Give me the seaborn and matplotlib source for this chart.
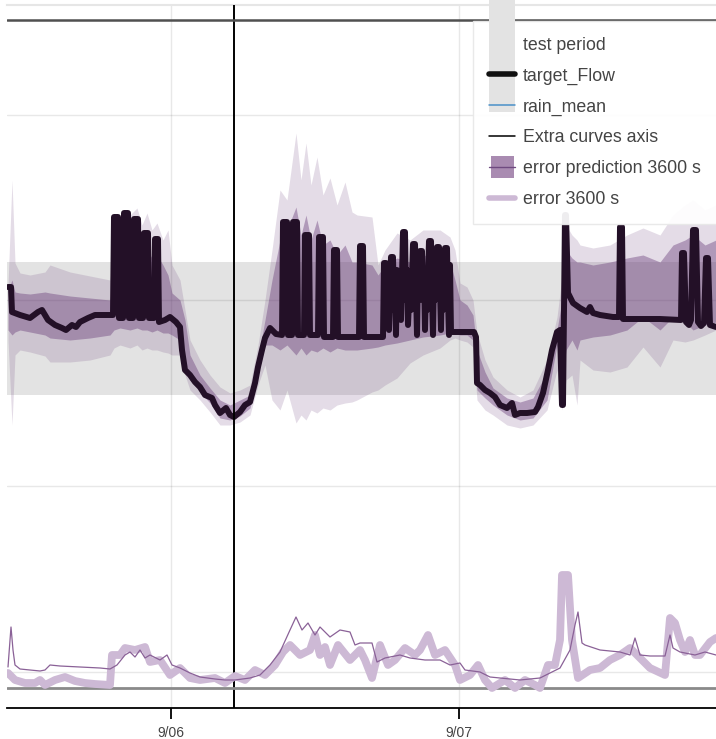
import numpy as np
import pandas as pd
import matplotlib
matplotlib.use("Agg")
import matplotlib.pyplot as plt
import seaborn as sns
from matplotlib.patches import Rectangle
from matplotlib.lines import Line2D
from matplotlib.legend_handler import HandlerBase

# ---------------------------------------------------------------------------
# Data: minutes after 2021-09-06 00:00 and values
# ---------------------------------------------------------------------------
flow_min = [-815, -800, -795, -755, -705, -665, -645, -615, -580, -545, -525, -495, -475, -455,
            -415, -380, -295, -290, -285, -265, -260, -240, -235, -215, -210, -190, -185, -165,
            -160, -140, -135, -115, -110, -85, -80, -65, -60, -30, -5, 25, 45, 55, 70, 95, 120,
            145, 170, 205, 220, 245, 275, 295, 315, 345, 370, 395, 420, 435, 455, 470, 495, 525,
            555, 560, 580, 585, 605, 610, 630, 635, 665, 670, 690, 695, 735, 740, 760, 765, 810,
            815, 830, 835, 940, 945, 960, 965, 1060,
            1065, 1075, 1080, 1085, 1090, 1100, 1110, 1115, 1120, 1125, 1130, 1135, 1145, 1150,
            1160, 1170, 1175, 1180, 1185, 1195, 1200, 1210, 1220, 1225, 1230, 1235, 1240, 1245,
            1255, 1260, 1265, 1270, 1275, 1280, 1290, 1300, 1305, 1310, 1315, 1320, 1330, 1340,
            1345, 1350, 1355, 1360, 1370, 1380, 1385, 1390, 1395, 1400,
            1445, 1515, 1525, 1530, 1545, 1570, 1595, 1620, 1645, 1680, 1705,
            1720, 1745, 1780, 1820, 1835, 1860, 1885, 1905, 1930, 1945, 1955, 1960, 1970, 1975,
            1985, 2010, 2045, 2080, 2095, 2110, 2145, 2210, 2240, 2245, 2255, 2260, 2345, 2445,
            2550, 2555, 2565, 2575, 2590, 2600, 2610, 2625, 2635, 2650, 2665, 2675, 2685, 2695,
            2725]
target_flow = [385, 385, 360, 357, 354, 360, 362, 352, 347, 344, 342, 347, 345, 350,
               354, 357, 357, 357, 455, 455, 354, 354, 459, 459, 354, 354, 453, 453,
               354, 354, 439, 439, 354, 354, 433, 433, 350, 352, 355, 350, 345, 322, 302, 297, 290,
               285, 277, 274, 267, 259, 264, 257, 255, 260, 267, 270, 289, 305, 322, 334, 344, 338,
               337, 450, 450, 337, 337, 450, 450, 337, 337, 437, 437, 337, 337, 435, 435, 335, 335,
               422, 422, 335, 335, 426, 426, 335, 335,
               409, 409, 352, 372, 342, 415, 415, 362, 387, 337, 402, 372, 392, 352,
               440, 440, 372, 402, 347, 397, 362, 428, 428, 382, 337, 407, 372, 421,
               421, 372, 402, 342, 387, 362, 431, 431, 377, 337, 402, 372, 425, 425,
               382, 342, 402, 362, 424, 424, 372, 337, 407, 340,
               340, 340, 335, 289, 287, 282, 279, 275, 267, 264, 269,
               257, 259, 259, 260, 265, 279, 302, 322, 340, 342, 267, 267, 457, 457,
               379, 369, 364, 360, 365, 359, 357, 355, 355, 445, 445, 353, 353, 353,
               352, 419, 419, 350, 347, 352, 442, 442, 350, 346, 349, 414, 414, 347,
               345]

band_min = [-815, -795, -780, -755, -705, -630, -605, -505, -405, -305, -285, -255, -205, -170,
            -145, -120, -95, -70, -40, -15, 5, 45, 70, 95, 145, 195, 245, 295, 345, 395, 435,
            470, 505, 545, 580, 625, 650, 675, 700, 730, 760, 795, 830, 870, 905, 930, 1005,
            1035, 1070, 1130, 1195, 1260, 1345, 1395, 1420, 1445, 1480, 1510, 1530, 1570, 1610,
            1680, 1745, 1810, 1880, 1930, 1955, 1975, 2005, 2030, 2045, 2110, 2195, 2280, 2360,
            2445, 2510, 2570, 2610, 2670, 2725]
outer_hi = [387, 492, 409, 399, 397, 400, 407, 400, 396, 392, 422, 447, 457, 464,
            447, 459, 442, 449, 432, 442, 407, 392, 362, 332, 312, 297, 285, 279, 282, 287, 327,
            372, 422, 482, 472, 539, 492, 529, 487, 515, 477, 494, 467, 490, 460, 457, 455,
            407, 422, 439, 432, 442, 442, 435, 422, 389, 385, 372, 339, 312, 295,
            282, 275, 282, 312, 355, 395, 447, 437, 432, 427, 424, 427, 437, 444,
            437, 457, 467, 472, 462, 467]
inner_hi = [382, 392, 380, 379, 378, 380, 379, 376, 374, 372, 402, 417, 422, 427,
            417, 422, 414, 417, 407, 397, 379, 372, 352, 317, 297, 284, 272, 267, 272, 277, 314,
            352, 392, 432, 442, 465, 437, 457, 432, 452, 427, 432, 417, 427, 410, 410, 407,
            397, 407, 414, 410, 417, 414, 410, 392, 372, 367, 357, 322, 300, 284,
            274, 270, 274, 300, 342, 372, 422, 414, 410, 410, 407, 410, 414, 417,
            410, 427, 432, 437, 427, 432]
inner_lo = [342, 337, 340, 342, 340, 337, 334, 332, 334, 337, 342, 344, 342, 344,
            342, 342, 340, 342, 339, 339, 337, 332, 312, 292, 280, 269, 254, 252, 256, 264, 297,
            327, 327, 322, 327, 317, 324, 317, 322, 320, 324, 320, 324, 322, 322, 322, 324,
            325, 327, 329, 332, 335, 337, 339, 339, 337, 337, 332, 282, 274, 267,
            257, 252, 254, 272, 327, 292, 322, 332, 322, 332, 335, 337, 342, 355,
            342, 355, 350, 342, 347, 350]
outer_lo = [332, 247, 317, 322, 320, 316, 310, 310, 312, 317, 324, 327, 324, 327,
            322, 324, 322, 322, 320, 319, 317, 317, 297, 282, 272, 260, 247, 247, 250, 257, 287,
            307, 272, 262, 282, 249, 257, 252, 262, 259, 264, 262, 267, 269, 270, 272, 280,
            282, 287, 294, 309, 317, 324, 332, 334, 332, 330, 325, 272, 262, 257,
            247, 244, 247, 262, 302, 262, 292, 297, 267, 312, 302, 300, 305, 325,
            305, 332, 330, 332, 337, 342]

err_pred_min = [-815, -800, -790, -780, -755, -705, -655, -630, -605, -555, -455, -355, -305,
                -270, -230, -205, -180, -155, -130, -105, -55, -20, 5, 45, 95, 145, 220, 270,
                320, 395, 445, 495, 545, 595, 625, 655, 685, 720, 745, 795, 845, 895, 920, 945,
                1005, 1030, 1070, 1145, 1195, 1270, 1345, 1395, 1445, 1470, 1545, 1595, 1645,
                1745, 1845, 1895, 1945, 1995, 2020, 2035, 2055, 2070, 2145, 2245, 2295, 2320,
                2345, 2395, 2470, 2495, 2510, 2545, 2620, 2670, 2725]
err_pred = [21, 61, 38, 23, 19, 18, 17, 18, 23, 22, 21, 20, 19,
            23, 33, 36, 31, 38, 30, 33, 28, 33, 23, 20, 15, 11, 9, 8,
            8, 10, 13, 23, 36, 58, 71, 58, 65, 53, 61, 51, 58, 56, 43, 45,
            45, 26, 30, 33, 30, 28, 28, 23, 25, 18, 16, 11, 10,
            8, 10, 15, 20, 38, 63, 76, 45, 43, 38, 36, 33, 50,
            33, 32, 32, 53, 40, 36, 33, 36, 33]

err_min = [-815, -780, -730, -680, -655, -630, -580, -530, -480, -430, -380, -305, -295, -255,
           -230, -180, -130, -105, -55, -5, 45, 95, 145, 220, 270, 320, 370, 420, 470, 520,
           560, 595, 645, 695, 720, 745, 770, 795, 835, 895, 945, 970, 1005, 1045, 1085, 1120,
           1170, 1220, 1245, 1285, 1320, 1370, 1420, 1445, 1495, 1535, 1570, 1605, 1670, 1720,
           1770, 1820, 1845, 1885, 1920, 1945, 1955, 1985, 2005, 2035, 2095, 2145, 2195, 2245,
           2295, 2345, 2395, 2470, 2495, 2520, 2545, 2570, 2595, 2620, 2645, 2695, 2725]
err_3600 = [15, 8, 5, 5, 8, 3, 8, 11, 7, 5, 4, 3, 33, 33,
            40, 38, 41, 26, 28, 13, 20, 10, 8, 10, 5, 12, 8, 18, 13, 23,
            36, 43, 33, 38, 53, 33, 41, 23, 43, 28, 38, 28, 10, 43, 23, 28,
            40, 33, 38, 53, 33, 38, 23, 8, 13, 23, 8, 0, 8, 0,
            8, 3, 0, 23, 23, 48, 113, 113, 48, 10, 18, 20, 28, 33,
            40, 30, 20, 13, 70, 65, 48, 36, 48, 33, 33, 46, 50]

test_period = (277, 410)          # horizontal test-period band on the flow axis
marker_time = 316                 # vertical marker, minutes after 9/06 00:00
extra_axis_level = 652            # level of the extra-curves axis line
grid_levels = [0, 186, 372, 557]
tick_minutes = [0, 1440]
tick_labels = ["9/06", "9/07"]
x_range = (-820, 2725)

START = pd.Timestamp("2021-09-06 00:00")


def to_time(minutes):
    return START + pd.to_timedelta(np.asarray(minutes, dtype=float), unit="min")


# ---------------------------------------------------------------------------
# Styling
# ---------------------------------------------------------------------------
sns.set_theme(style="white")
plt.rcParams["font.family"] = ["Liberation Sans", "DejaVu Sans"]

PURPLE = "#6a3d7a"
BAND_GREY = "#e3e3e3"
FLOW_COLOR = "#231027"
ERR_PRED_COLOR = "#8a6197"
ERR_COLOR = "#cdb9d5"
TEXT = "#444444"

W, H = 716, 739
fig = plt.figure(figsize=(W / 100, H / 100), dpi=100)
ax = fig.add_axes([7 / W, 31 / H, 709 / W, 703 / H])
ax2 = ax.twinx()

# test period band and forecast uncertainty envelopes
ax.axhspan(*test_period, color=BAND_GREY, lw=0, zorder=0.2)
bt = to_time(band_min)
ax.fill_between(bt, outer_lo, outer_hi, color=PURPLE, alpha=0.18, lw=0, zorder=1)
ax.fill_between(bt, inner_lo, inner_hi, color=PURPLE, alpha=0.42, lw=0, zorder=1.1)

# observed flow
sns.lineplot(x=to_time(flow_min), y=target_flow, ax=ax, color=FLOW_COLOR, lw=4.3,
             estimator=None, sort=False, legend=False, zorder=3)

ax.axvline(to_time([marker_time])[0], color="black", lw=1.4, zorder=4)
ax.axhline(extra_axis_level, color="#505050", lw=1.8, zorder=4)

# error curves on the secondary axis
ax2.axhline(0, color="#8a8a8a", lw=2.0, zorder=1)
sns.lineplot(x=to_time(err_min), y=err_3600, ax=ax2, color=ERR_COLOR, lw=5.6,
             estimator=None, sort=False, legend=False, zorder=2)
sns.lineplot(x=to_time(err_pred_min), y=err_pred, ax=ax2, color=ERR_PRED_COLOR, lw=0.9,
             estimator=None, sort=False, legend=False, zorder=3)

# axes limits, grid, ticks
ax.set_xlim(to_time([x_range[0]])[0], to_time([x_range[1]])[0])
ax.set_ylim(-36, 667)
ax2.set_ylim(-20, 683)

ax.set_axisbelow(True)
ax.set_yticks(grid_levels)
ax.grid(True, color="black", alpha=0.09, lw=1.0)
ax.set_xticks(list(to_time(tick_minutes)))
ax.set_xticklabels(tick_labels)
ax.tick_params(axis="y", length=0, labelleft=False, labelright=False)
ax.tick_params(axis="x", direction="out", length=8, width=1.3, color="black",
               labelcolor=TEXT, labelsize=10, pad=5, bottom=True)
ax2.set_yticks([])
ax2.grid(False)
ax.set_xlabel("")
ax.set_ylabel("")
ax2.set_ylabel("")

for side in ("left", "right"):
    ax.spines[side].set_visible(False)
ax.spines["top"].set_color("#e6e6e6")
ax.spines["top"].set_linewidth(1.5)
ax.spines["bottom"].set_color("black")
ax.spines["bottom"].set_linewidth(1.3)
for side in ax2.spines:
    ax2.spines[side].set_visible(False)


# ---------------------------------------------------------------------------
# Legend
# ---------------------------------------------------------------------------
PT = 72 / fig.dpi  # points per pixel


class TallBandHandler(HandlerBase):
    """Test-period swatch drawn as a tall grey strip."""

    def create_artists(self, legend, orig_handle, xdescent, ydescent, width, height,
                       fontsize, trans):
        yc = height / 2 - ydescent
        r = Rectangle((-xdescent, yc - 68 * PT), width, 112 * PT, facecolor=BAND_GREY,
                      edgecolor="none", transform=trans)
        return [r]


class BandLineHandler(HandlerBase):
    """Square band swatch with the prediction line across it."""

    def create_artists(self, legend, orig_handle, xdescent, ydescent, width, height,
                       fontsize, trans):
        yc = height / 2 - ydescent
        xc = -xdescent + width / 2
        s_w, s_h = 23 * PT, 22 * PT
        r = Rectangle((xc - s_w / 2, yc - s_h / 2), s_w, s_h, facecolor="#a98bb1",
                      edgecolor="none", transform=trans)
        ln = Line2D([-xdescent, -xdescent + width], [yc, yc], color="#6f4a80", lw=1.0,
                    transform=trans)
        return [r, ln]


h_test = Rectangle((0, 0), 1, 1)
h_band = Rectangle((0, 0), 1, 1)
handles = [
    h_test,
    Line2D([], [], color="#111111", lw=4.0),
    Line2D([], [], color="#4a90c8", lw=1.1),
    Line2D([], [], color="black", lw=1.1),
    h_band,
    Line2D([], [], color=ERR_COLOR, lw=4.0),
]
labels = ["test period", "target_Flow", "rain_mean", "Extra curves axis",
          "error prediction 3600 s", "error 3600 s"]

leg = fig.legend(handles, labels, loc="upper left",
                 bbox_to_anchor=(473 / W, 1 - 21 / H), bbox_transform=fig.transFigure,
                 borderaxespad=0, frameon=True, fancybox=False, framealpha=0.93,
                 facecolor="white", edgecolor="#e8e8e8", fontsize=12.8,
                 handlelength=1.47, handletextpad=0.43, borderpad=0.9,
                 labelspacing=0.77, labelcolor=TEXT,
                 handler_map={h_test: TallBandHandler(), h_band: BandLineHandler()})
leg.get_frame().set_linewidth(1.0)

fig.savefig("out.png", dpi=100)
